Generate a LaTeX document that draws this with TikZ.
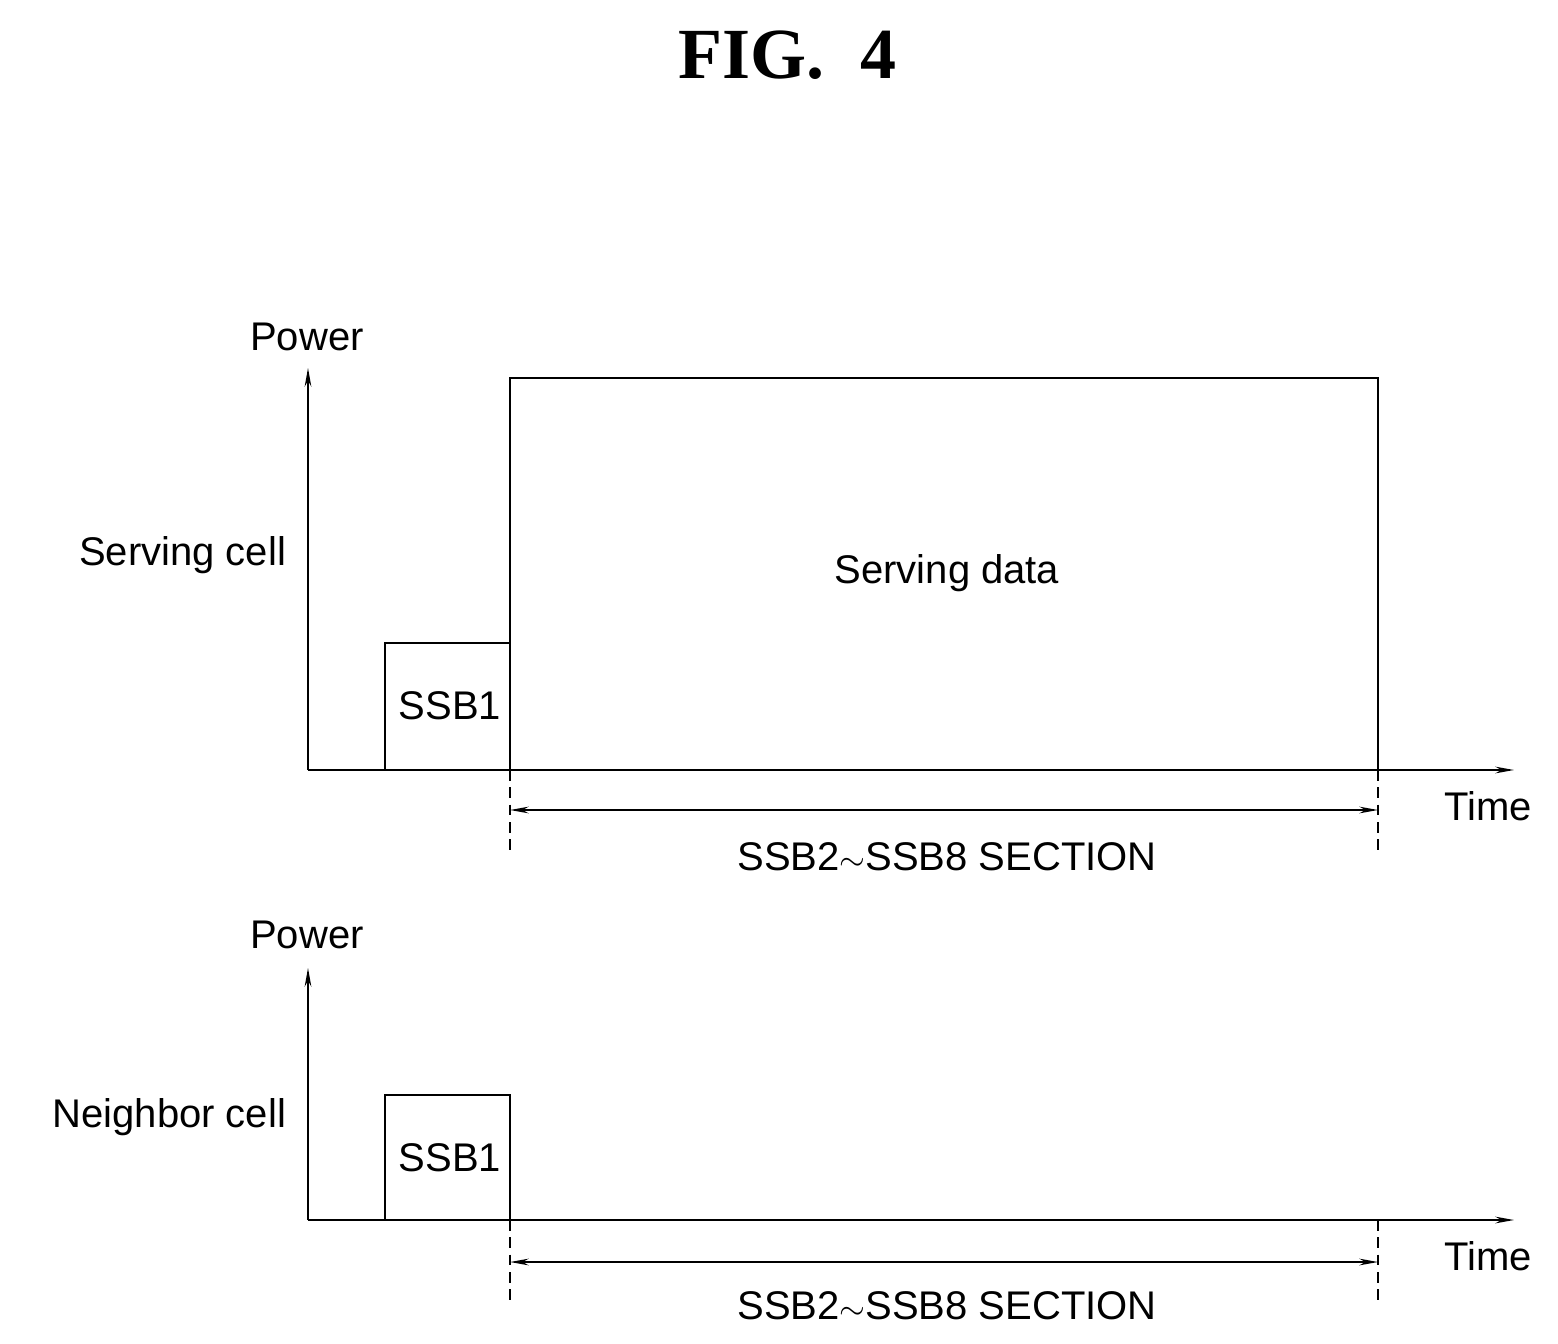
\documentclass[tikz,border=0pt]{standalone}
\usepackage{fontspec}
\usetikzlibrary{arrows.meta}
\setmainfont{Liberation Sans}
\newfontfamily\figfont{Liberation Serif}
\tikzset{every picture/.style={line width=1.4pt}}
\tikzset{
  lbl/.style={inner sep=0.75pt, font=\fontsize{30}{36}\selectfont},
  axis/.style={-{Stealth[length=14pt,width=5pt]}},
  span/.style={{Stealth[length=14pt,width=5pt]}-{Stealth[length=14pt,width=5pt]}},
  guide/.style={dash pattern=on 8pt off 5pt}
}
\begin{document}
\begin{tikzpicture}[x=0.75pt,y=0.75pt,yscale=-1,xscale=1]
\useasboundingbox (0,0) rectangle (1558,1344);

% Title
\node (title) at (787,55) [inner sep=0pt, font=\figfont\bfseries\fontsize{54}{60}\selectfont] {FIG.~~4};

% Top panel: serving cell
\coordinate (o1) at (308,770);
\coordinate (y1) at (308,368);
\coordinate (x1) at (1514,770);
\draw [axis] (o1) -- (y1);
\draw [axis] (o1) -- (x1);
\draw (385,770) -- (385,643) -- (510,643) -- (510,770);
\draw (510,643) -- (510,378) -- (1378,378) -- (1378,770);
\coordinate (a1) at (510,810);
\coordinate (b1) at (1378,810);
\draw [span] (a1) -- (b1);
\draw [guide] (510,770) -- (510,852);
\draw [guide] (1378,770) -- (1378,852);
\node (pw1) at (307,337) [lbl] {Power};
\node (sc) at (288,555) [lbl, anchor=east] {Serving cell};
\node (ssb1a) at (450,706) [lbl] {SSB1};
\node (sd) at (947,573) [lbl] {Serving data};
\node (t1) at (1488,806) [lbl] {Time};
\node (sec1) at (947,857) [lbl] {SSB2$\sim$SSB8 SECTION};

% Bottom panel: neighbor cell
\coordinate (o2) at (308,1220);
\coordinate (y2) at (308,968);
\coordinate (x2) at (1514,1220);
\draw [axis] (o2) -- (y2);
\draw [axis] (o2) -- (x2);
\draw (385,1220) -- (385,1095) -- (510,1095) -- (510,1220);
\coordinate (a2) at (510,1262);
\coordinate (b2) at (1378,1262);
\draw [span] (a2) -- (b2);
\draw [guide] (510,1220) -- (510,1304);
\draw [guide] (1378,1220) -- (1378,1304);
\node (pw2) at (307,935) [lbl] {Power};
\node (nc) at (288,1117) [lbl, anchor=east] {Neighbor cell};
\node (ssb1b) at (450,1158) [lbl] {SSB1};
\node (t2) at (1488,1256) [lbl] {Time};
\node (sec2) at (947,1306) [lbl] {SSB2$\sim$SSB8 SECTION};

\end{tikzpicture}
\end{document}
